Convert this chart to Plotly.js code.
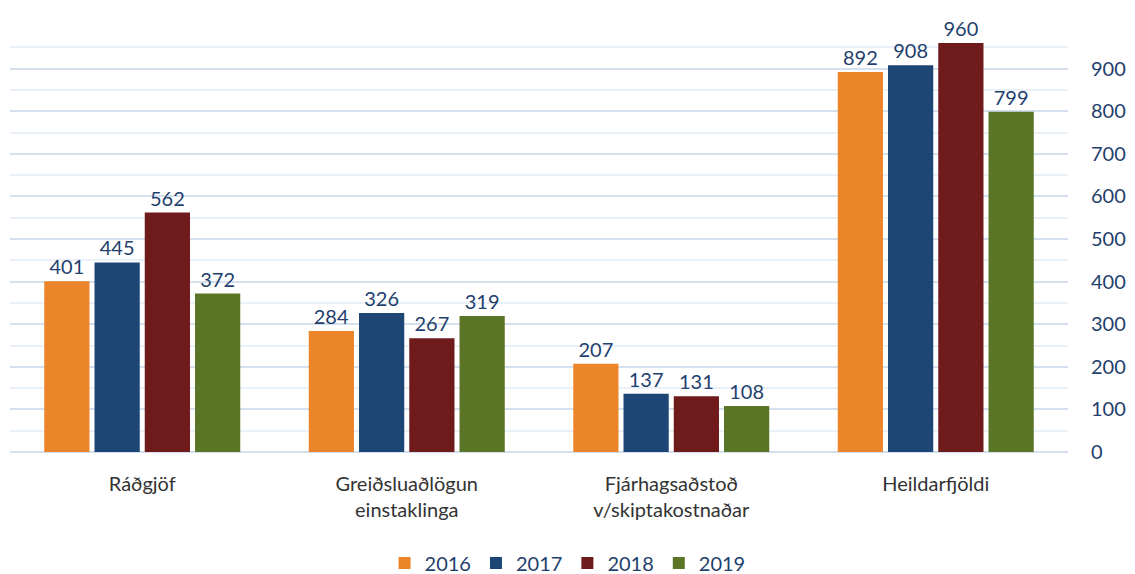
<!DOCTYPE html>
<html><head><meta charset="utf-8">
<script src="https://cdn.plot.ly/plotly-3.0.1.min.js"></script>
<style>html,body{margin:0;padding:0;background:#fff}#chart{width:1135px;height:574px}</style>
</head><body><div id="chart"></div>
<script>
const categories = ["Ráðgjöf", "Greiðsluaðlögun<br>einstaklinga", "Fjárhagsaðstoð<br>v/skiptakostnaðar", "Heildarfjöldi"];
const years = ["2016", "2017", "2018", "2019"];
const v2016 = [401, 284, 207, 892];
const v2017 = [445, 326, 137, 908];
const v2018 = [562, 267, 131, 960];
const v2019 = [372, 319, 108, 799];
const majorTicks = [0, 100, 200, 300, 400, 500, 600, 700, 800, 900];
const minorTicks = [50, 150, 250, 350, 450, 550, 650, 750, 850, 950];
const colors = ["#ec852a", "#1d4675", "#701b1b", "#5a7526"];
const series = [v2016, v2017, v2018, v2019];
const font = "Lato, 'Open Sans', sans-serif";
const traces = series.map((vals, i) => ({
  type: "bar", name: years[i], x: categories, y: vals,
  marker: {color: colors[i]},
  text: vals.map(String), textposition: "outside", cliponaxis: false,
  textfont: {family: font, size: 20, color: "#1f3f6e"},
  hoverinfo: "x+y+name"
}));
const layout = {
  width: 1135, height: 574,
  margin: {l: 10, r: 67, t: 26, b: 122, autoexpand: false},
  paper_bgcolor: "#fff", plot_bgcolor: "#fff",
  barmode: "group", bargap: 0.24, bargroupgap: 0.1,
  showlegend: true,
  legend: {orientation: "h", x: 0.527, xanchor: "center", y: -0.215, yanchor: "top",
    font: {family: font, size: 20, color: "#1f3f6e"}, itemwidth: 30, traceorder: "normal"},
  xaxis: {tickfont: {family: font, size: 20, color: "#333"}, showline: false, ticks: "", zeroline: false,
    ticklabelstandoff: 18},
  yaxis: {side: "right", range: [0, 1000], tickmode: "array", tickvals: majorTicks,
    showgrid: true, gridcolor: "#d5e0ef", gridwidth: 2,
    minor: {tickmode: "array", tickvals: minorTicks, showgrid: true, gridcolor: "#eaf0f8", gridwidth: 2},
    zeroline: true, zerolinecolor: "#d5e0ef", zerolinewidth: 2,
    tickfont: {family: font, size: 20, color: "#1f3f6e"}, ticklabelstandoff: 22, ticks: ""},
  font: {family: font}
};
Plotly.newPlot("chart", traces, layout, {displayModeBar: false, staticPlot: true});
</script></body></html>
